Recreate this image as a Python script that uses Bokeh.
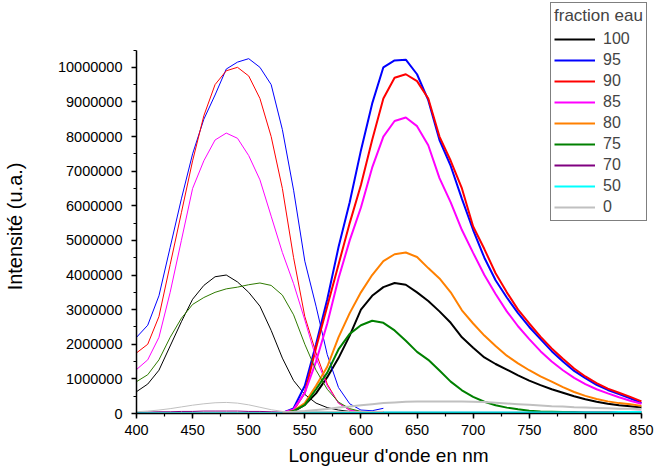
from bokeh.plotting import figure
from bokeh.models import Range1d, SingleIntervalTicker, NumeralTickFormatter, Legend, LegendItem, ColumnDataSource
from bokeh.embed import file_html
from bokeh.resources import INLINE

UNIT = 1e6  # values below are in millions (u.a.)

FRACTIONS = ["100", "95", "90", "85", "80", "75", "70", "50", "0"]
COLORS = ["#000000", "#0000FF", "#FF0000", "#FF00FF", "#FF8000", "#008000", "#800080", "#00FFFF", "#C0C0C0"]
THIN_COLORS = ["#000000", "#0000FF", "#FF0000", "#FF00FF", "#FF8000", "#2F7A00", "#800080", "#00FFFF", "#C0C0C0"]

# left-hand (thin) spectra, 400-620 nm
WL_EX = [400, 410, 420, 430, 440, 450, 460, 470, 480, 490, 500, 510, 520, 530, 540, 550, 560, 570, 580, 590, 600, 610, 620]
ex_100 = [0.63, 0.85, 1.25, 1.95, 2.65, 3.3, 3.7, 3.95, 4.0, 3.8, 3.5, 3.1, 2.4, 1.6, 0.95, 0.55, 0.3, 0.17, 0.1, 0.06, 0.05, 0.04, 0.04]
ex_95 = [2.2, 2.55, 3.4, 4.8, 6.2, 7.5, 8.5, 9.2, 9.95, 10.15, 10.25, 10.0, 9.5, 8.2, 6.45, 4.4, 3.1, 1.7, 0.75, 0.28, 0.1, 0.08, 0.15]
ex_90 = [1.75, 2.0, 2.8, 4.3, 5.8, 7.3, 8.6, 9.5, 9.9, 10.0, 9.75, 9.1, 8.0, 6.5, 4.5, 2.8, 1.75, 0.85, 0.3, 0.1, 0.05, 0.04, 0.04]
ex_85 = [1.27, 1.55, 2.2, 3.5, 5.0, 6.5, 7.3, 7.9, 8.1, 7.95, 7.45, 6.75, 5.7, 4.65, 3.75, 2.7, 1.6, 0.8, 0.3, 0.1, 0.05, 0.04, 0.04]
ex_80 = None
ex_75 = [0.92, 1.12, 1.55, 2.2, 2.75, 3.15, 3.35, 3.5, 3.6, 3.65, 3.72, 3.77, 3.7, 3.42, 2.85, 2.0, 1.25, 0.7, 0.33, 0.14, 0.06, 0.04, 0.04]
ex_70 = [0.03, 0.04, 0.05, 0.05, 0.06, 0.06, 0.07, 0.07, 0.07, 0.07, 0.06, 0.06, 0.05, 0.04, 0.04, 0.03, 0.03, 0.03, 0.03, 0.03, 0.03, 0.03, 0.03]
ex_50 = [0.02, 0.02, 0.02, 0.02, 0.02, 0.02, 0.02, 0.02, 0.02, 0.02, 0.02, 0.02, 0.02, 0.02, 0.02, 0.02, 0.02, 0.02, 0.02, 0.02, 0.02, 0.02, 0.02]
ex_0 = [0.05, 0.07, 0.1, 0.14, 0.19, 0.24, 0.28, 0.31, 0.32, 0.3, 0.25, 0.18, 0.11, 0.06, 0.05, 0.05, 0.05, 0.05, 0.06, 0.06, 0.06, 0.06, 0.06]

# right-hand (thick) spectra, 530-850 nm
WL_EM = [530, 540, 550, 560, 570, 580, 590, 600, 610, 620, 630, 640, 650, 660, 670, 680, 690, 700, 710, 720,
         730, 740, 750, 760, 770, 780, 790, 800, 810, 820, 830, 840, 850]
em_100 = [0.01, 0.06, 0.25, 0.58, 1.05, 1.6, 2.25, 3.0, 3.4, 3.65, 3.77, 3.72, 3.5, 3.25, 2.95, 2.62, 2.2, 1.9, 1.62, 1.43,
          1.27, 1.1, 0.95, 0.82, 0.7, 0.6, 0.5, 0.41, 0.34, 0.28, 0.24, 0.21, 0.17]
em_95 = [0.02, 0.15, 0.8, 2.0, 3.3, 4.8, 6.1, 7.6, 8.95, 10.0, 10.2, 10.22, 9.8, 9.05, 7.9, 7.15, 6.2, 5.3, 4.5, 3.85,
         3.35, 2.9, 2.5, 2.15, 1.8, 1.5, 1.23, 1.02, 0.83, 0.68, 0.56, 0.44, 0.3]
em_90 = [0.02, 0.1, 0.6, 1.9, 3.1, 4.3, 5.5, 6.6, 7.9, 9.1, 9.7, 9.8, 9.6, 9.1, 8.0, 7.3, 6.5, 5.4, 4.75, 4.05,
         3.5, 3.0, 2.6, 2.22, 1.88, 1.58, 1.3, 1.07, 0.88, 0.72, 0.6, 0.48, 0.35]
em_85 = [0.02, 0.12, 0.6, 1.5, 2.6, 3.9, 5.0, 5.95, 7.1, 8.0, 8.45, 8.55, 8.3, 7.75, 6.8, 6.1, 5.3, 4.64, 4.0, 3.45,
         2.95, 2.52, 2.15, 1.8, 1.5, 1.25, 1.03, 0.85, 0.7, 0.58, 0.47, 0.37, 0.28]
em_80 = [0.01, 0.08, 0.3, 0.8, 1.35, 2.2, 2.9, 3.5, 4.0, 4.4, 4.6, 4.65, 4.52, 4.2, 3.9, 3.5, 2.98, 2.6, 2.25, 1.95,
         1.67, 1.45, 1.25, 1.07, 0.92, 0.76, 0.62, 0.51, 0.42, 0.35, 0.3, 0.27, 0.22]
em_75 = [0.01, 0.07, 0.25, 0.7, 1.18, 1.85, 2.3, 2.55, 2.68, 2.62, 2.4, 2.1, 1.78, 1.55, 1.24, 0.92, 0.67, 0.48, 0.34, 0.24,
         0.17, 0.12, 0.08, 0.06, 0.05, 0.04, 0.04, 0.03, 0.03, 0.03, 0.03, 0.03, 0.03]
em_70 = [0.02, 0.02, 0.02, 0.02, 0.02, 0.02, 0.02, 0.02, 0.02, 0.02, 0.02, 0.02, 0.02, 0.02, 0.02, 0.02, 0.02, 0.02, 0.02, 0.02,
         0.02, 0.02, 0.02, 0.02, 0.02, 0.02, 0.03, 0.03, 0.03, 0.03, 0.04, 0.04, 0.05]
em_50 = [0.03, 0.03, 0.03, 0.03, 0.03, 0.03, 0.03, 0.03, 0.03, 0.03, 0.03, 0.03, 0.03, 0.03, 0.03, 0.03, 0.03, 0.03, 0.03, 0.03,
         0.03, 0.03, 0.03, 0.03, 0.03, 0.03, 0.03, 0.03, 0.03, 0.03, 0.04, 0.04, 0.04]
em_0 = [0.04, 0.05, 0.07, 0.1, 0.13, 0.17, 0.2, 0.24, 0.27, 0.3, 0.32, 0.34, 0.35, 0.35, 0.35, 0.35, 0.35, 0.34, 0.33, 0.31,
        0.29, 0.27, 0.25, 0.23, 0.21, 0.2, 0.18, 0.17, 0.16, 0.15, 0.14, 0.14, 0.13]

EX = [ex_100, ex_95, ex_90, ex_85, ex_80, ex_75, ex_70, ex_50, ex_0]
EM = [em_100, em_95, em_90, em_85, em_80, em_75, em_70, em_50, em_0]

X_AXIS = (400, 850)
Y_AXIS = (0, 10.5e6)
X_TICK_STEP = 50
Y_TICK_STEP = 1000000

FONT = "Liberation Sans"
NBSP = "\u00a0"

# frame extends to the top/right edges so the legend (which overhangs the axes) is not clipped;
# the axes themselves are limited with `bounds`.
p = figure(width=656, height=468, output_backend="svg", toolbar_location=None,
           x_range=Range1d(400, 863.4), y_range=Range1d(0, 11.93e6),
           min_border_left=136, min_border_right=0, min_border_top=0, min_border_bottom=54)
p.outline_line_color = None
p.grid.visible = False
p.background_fill_color = "white"
p.border_fill_color = "white"

p.xaxis.ticker = SingleIntervalTicker(interval=X_TICK_STEP, num_minor_ticks=2)
p.yaxis.ticker = SingleIntervalTicker(interval=Y_TICK_STEP, num_minor_ticks=2)
p.yaxis.formatter = NumeralTickFormatter(format="0")
p.xaxis.bounds = X_AXIS
p.yaxis.bounds = Y_AXIS

for ax in (p.xaxis[0], p.yaxis[0]):
    ax.axis_line_color = "black"
    ax.axis_line_width = 1.5
    ax.major_tick_line_color = "black"
    ax.major_tick_line_width = 1.5
    ax.minor_tick_line_color = "black"
    ax.minor_tick_line_width = 1.2
    ax.major_tick_in = 0
    ax.major_tick_out = 5
    ax.minor_tick_in = 0
    ax.minor_tick_out = 3
    ax.major_label_text_font = FONT
    ax.major_label_text_font_size = "14.5px"
    ax.major_label_text_color = "black"
    ax.axis_label_text_font = FONT
    ax.axis_label_text_font_style = "normal"
    ax.axis_label_text_color = "black"

# labels are centred on the (enlarged) frame; non-breaking spaces re-centre them on the axes
p.xaxis.axis_label = "Longueur d'onde en nm" + NBSP * 3
p.yaxis.axis_label = "Intensité (u.a.)" + NBSP * 7
p.xaxis.axis_label_text_font_size = "19px"
p.yaxis.axis_label_text_font_size = "20px"
p.xaxis.major_label_standoff = 6
p.yaxis.major_label_standoff = 9
p.xaxis.axis_label_standoff = 7
p.yaxis.axis_label_standoff = 29

items = []
for frac, col, tcol, ex, em in zip(FRACTIONS, COLORS, THIN_COLORS, EX, EM):
    if ex is not None:
        src = ColumnDataSource(dict(x=WL_EX, y=[v * UNIT for v in ex]))
        p.line("x", "y", source=src, line_color=tcol, line_width=1)
    src2 = ColumnDataSource(dict(x=WL_EM, y=[v * UNIT for v in em]))
    thick = p.line("x", "y", source=src2, line_color=col, line_width=2)
    items.append(LegendItem(label=frac, renderers=[thick]))

legend = Legend(items=items, location=(414, 192), title="fraction eau",
                title_text_font=FONT, title_text_font_size="17px", title_text_font_style="normal",
                title_standoff=3,
                label_text_font=FONT, label_text_font_size="16px",
                glyph_width=41, glyph_height=20, label_height=20, label_standoff=8,
                spacing=1, padding=3, margin=0,
                border_line_color="black", border_line_width=1,
                background_fill_color="white", background_fill_alpha=1.0)
p.add_layout(legend, "center")

open("out.html", "w").write(file_html(p, INLINE))
